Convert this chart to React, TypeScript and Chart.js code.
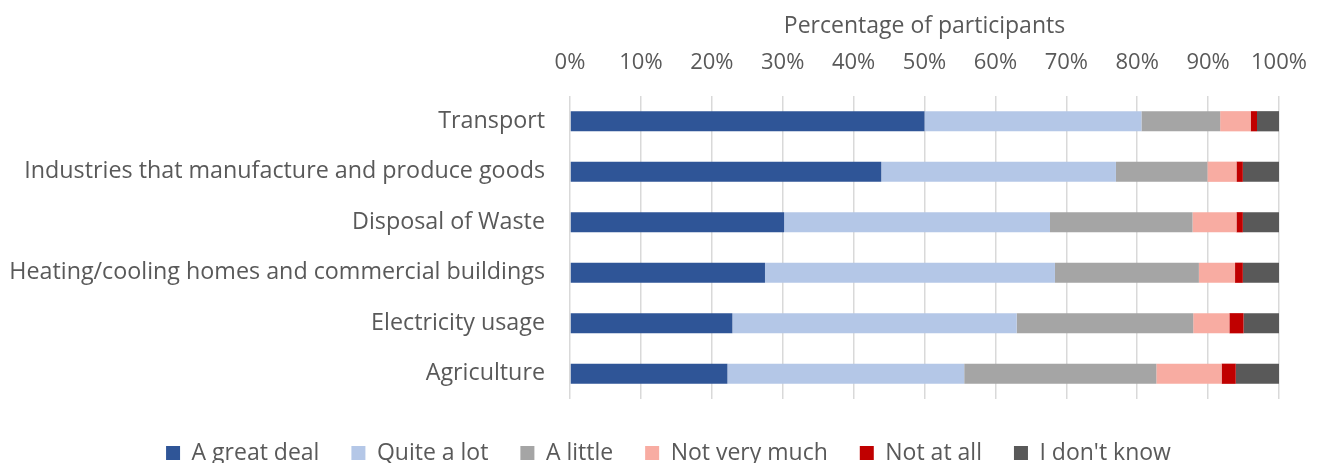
import React, { useEffect, useRef } from "react";
import { Chart, registerables } from "chart.js";

Chart.register(...registerables);

const categories = [
  "Transport",
  "Industries that manufacture and produce goods",
  "Disposal of Waste",
  "Heating/cooling homes and commercial buildings",
  "Electricity usage",
  "Agriculture",
];

const seriesNames = ["A great deal", "Quite a lot", "A little", "Not very much", "Not at all", "I don't know"];

const greatDeal = [50.0, 43.9, 30.2, 27.5, 22.9, 22.2];
const quiteALot = [30.6, 33.1, 37.5, 40.9, 40.1, 33.4];
const aLittle = [11.1, 12.9, 20.1, 20.3, 24.9, 27.1];
const notVeryMuch = [4.3, 4.1, 6.2, 5.1, 5.1, 9.2];
const notAtAll = [0.9, 0.9, 0.9, 1.1, 2.0, 2.0];
const dontKnow = [3.1, 5.1, 5.1, 5.1, 5.0, 6.1];

const seriesColors = ["#2F5597", "#B4C7E7", "#A5A5A5", "#F8ACA2", "#C00000", "#595959"];

const xTicks = [0, 10, 20, 30, 40, 50, 60, 70, 80, 90, 100];

const FONT = "'Open Sans', 'Liberation Sans', sans-serif";

const legendShift = {
  id: "legendShift",
  afterLayout(chart: any) {
    const lg = chart.legend;
    if (lg) {
      lg.left += 29;
      lg.right += 29;
    }
  },
};

export default function App() {
  const ref = useRef<HTMLCanvasElement | null>(null);
  useEffect(() => {
    document.body.style.margin = "0";
    const values = [greatDeal, quiteALot, aLittle, notVeryMuch, notAtAll, dontKnow];
    const chart = new Chart(ref.current!, {
      type: "bar",
      data: {
        labels: categories,
        datasets: values.map((v, i) => ({
          label: seriesNames[i],
          data: v,
          backgroundColor: seriesColors[i],
          borderWidth: 0,
          barPercentage: 0.4,
          categoryPercentage: 1,
        })),
      },
      plugins: [legendShift],
      options: {
        indexAxis: "y",
        animation: false,
        responsive: false,
        maintainAspectRatio: false,
        layout: { padding: { left: 0, right: 42, top: 0, bottom: -11.5 } },
        scales: {
          x: {
            position: "top",
            stacked: true,
            min: 0,
            max: 100,
            afterBuildTicks: (scale: any) => {
              scale.ticks = xTicks.map((v) => ({ value: v }));
            },
            afterFit: (scale: any) => {
              scale.height = 96;
              scale.paddingLeft = 0;
              scale.paddingRight = 0;
            },
            grid: { color: "#D9D9D9", lineWidth: 1.5, drawTicks: false },
            border: { display: false },
            ticks: {
              color: "#595959",
              font: { family: FONT, size: 22 },
              padding: 20,
              maxRotation: 0,
              callback: (v: any) => v + "%",
            },
            title: {
              display: true,
              text: "Percentage of participants",
              color: "#595959",
              font: { family: FONT, size: 23 },
              padding: { top: 13, bottom: 0 },
            },
          },
          y: {
            stacked: true,
            afterFit: (scale: any) => {
              scale.width = 570;
            },
            grid: { display: false },
            border: { display: false },
            ticks: {
              color: "#595959",
              font: { family: FONT, size: 23.3 },
              padding: 17,
            },
          },
        },
        plugins: {
          legend: {
            position: "bottom",
            title: {
              display: true,
              text: " ",
              font: { family: FONT, size: 10.5, lineHeight: 1 },
              padding: 0,
            },
            labels: {
              color: "#595959",
              font: { family: FONT, size: 23 },
              boxWidth: 14,
              boxHeight: 14,
              padding: 32,
            },
          },
          tooltip: { enabled: false },
        },
      },
    });
    return () => chart.destroy();
  }, []);
  return <canvas ref={ref} width={1321} height={463} style={{ display: "block" }} />;
}
